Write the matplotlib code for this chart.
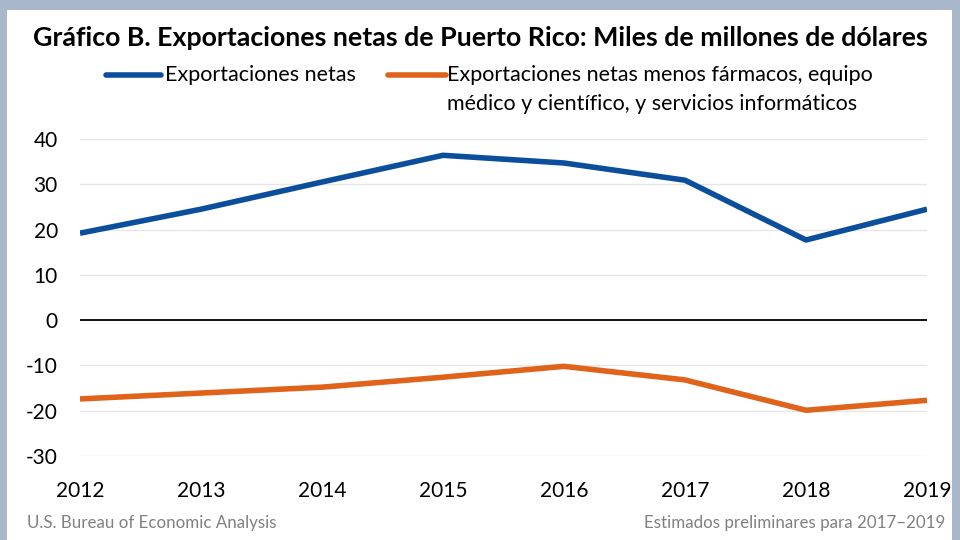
import matplotlib
matplotlib.use('Agg')
import matplotlib.pyplot as plt
from matplotlib.patches import Rectangle
from matplotlib.lines import Line2D

# Data (billions of dollars)
years = [2012, 2013, 2014, 2015, 2016, 2017, 2018, 2019]
net_exports = [19.2, 24.5, 30.5, 36.4, 34.7, 30.9, 17.7, 24.5]
net_exports_ex = [-17.4, -16.1, -14.8, -12.6, -10.2, -13.2, -19.9, -17.7]
label1 = 'Exportaciones netas'
label2 = ['Exportaciones netas menos fármacos, equipo',
          'médico y científico, y servicios informáticos']

blue = '#0B4F9C'
orange = '#E0631B'

plt.rcParams['font.family'] = ['Lato', 'DejaVu Sans']
plt.rcParams['axes.unicode_minus'] = False

fig = plt.figure(figsize=(9.6, 5.4), dpi=100)
fig.patch.set_facecolor('#A9B7CB')
# white panel inside the border
fig.patches.append(Rectangle((7/960, 0), (952-7)/960, (540-10)/540,
                             transform=fig.transFigure, facecolor='white',
                             edgecolor='none', zorder=0))

ax = fig.add_axes([80/960, 1-456/540, (927-80)/960, (456-139)/540])
ax.set_zorder(2)
ax.set_facecolor('none')

ax.plot(years, net_exports, color=blue, lw=4, solid_capstyle='butt')
ax.plot(years, net_exports_ex, color=orange, lw=4, solid_capstyle='butt')
ax.axhline(0, color='black', lw=1.3, zorder=1)

ax.set_xlim(2012, 2019)
ax.set_ylim(-30, 40)
ax.set_yticks(range(-30, 41, 10))
ax.set_xticks(years)
ax.grid(axis='y', color='#E6E6E6', lw=1)
ax.set_axisbelow(True)
for s in ax.spines.values():
    s.set_visible(False)
ax.tick_params(length=0, labelsize=15)
ax.tick_params(axis='y', pad=16)
ax.tick_params(axis='x', pad=18)

fig.text(0.5, 1-38/540, 'Gráfico B. Exportaciones netas de Puerto Rico: Miles de millones de dólares',
         ha='center', va='center', fontsize=19.3, fontweight='bold')

# legend drawn by hand
def fx(px):
    return px/960

def fy(py):
    return 1 - py/540

fig.add_artist(Line2D([fx(106), fx(161)], [fy(75), fy(75)], color=blue, lw=4,
                      solid_capstyle='round', transform=fig.transFigure))
fig.text(fx(165), fy(75), label1, ha='left', va='center', fontsize=15.5)
fig.add_artist(Line2D([fx(388), fx(446)], [fy(75), fy(75)], color=orange, lw=4,
                      solid_capstyle='round', transform=fig.transFigure))
fig.text(fx(447), fy(75), label2[0], ha='left', va='center', fontsize=15.5)
fig.text(fx(447), fy(104), label2[1], ha='left', va='center', fontsize=15.5)

fig.text(fx(27), fy(523), 'U.S. Bureau of Economic Analysis', ha='left', va='center',
         fontsize=12.2, color='#808080')
fig.text(fx(945), fy(523), 'Estimados preliminares para 2017–2019', ha='right', va='center',
         fontsize=12.2, color='#808080')

fig.savefig('out.png', dpi=100, facecolor=fig.get_facecolor())
